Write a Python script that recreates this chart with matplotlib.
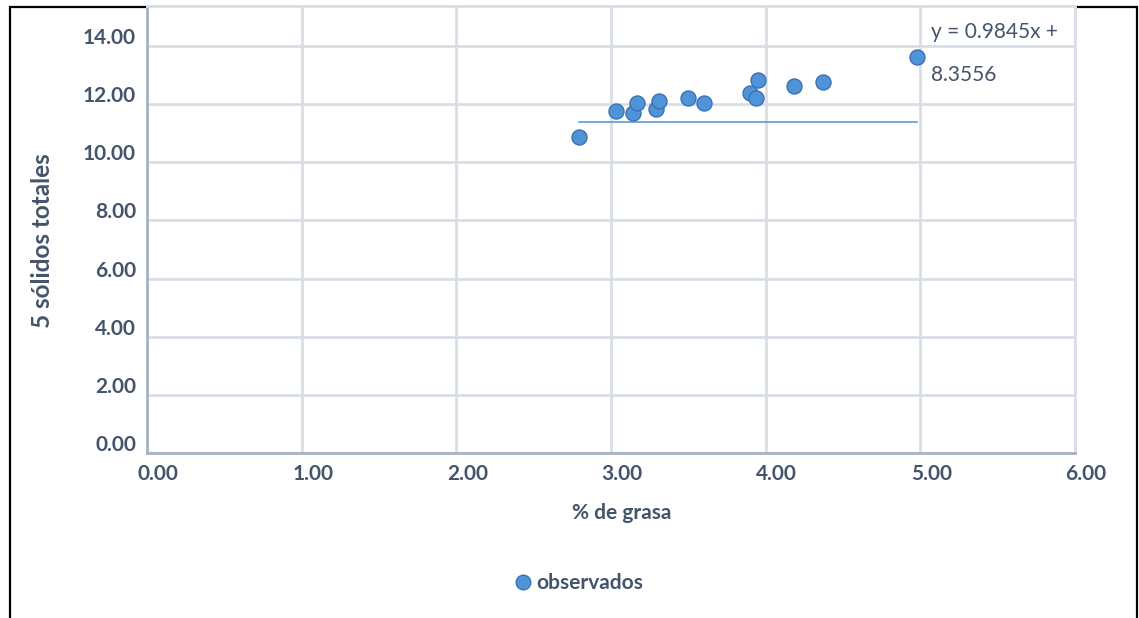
import matplotlib
matplotlib.use("Agg")
import matplotlib.pyplot as plt
from matplotlib.patches import Rectangle
from matplotlib.transforms import ScaledTranslation
from matplotlib.lines import Line2D

# datos
grasa = [2.79, 3.03, 3.14, 3.17, 3.29, 3.31, 3.50, 3.60, 3.90, 3.94, 3.95, 4.18, 4.37, 4.98]
solidos = [10.86, 11.76, 11.69, 12.03, 11.83, 12.10, 12.21, 12.03, 12.38, 12.21, 12.83, 12.62, 12.76, 13.62]

# linea de tendencia tal como aparece (horizontal)
trend_x = [2.79, 4.98]
trend_y = [11.37, 11.37]

x_ticks = [0, 1, 2, 3, 4, 5, 6]
y_ticks = [0, 2, 4, 6, 8, 10, 12, 14]
ecuacion = ["y = 0.9845x +", "8.3556"]

TXT = "#44546a"
GRID = "#d9dee6"
AXIS = "#a7b2c5"
FONT = "Lato"

plt.rcParams['font.family'] = [FONT, 'DejaVu Sans']

fig = plt.figure(figsize=(11.39, 6.18), dpi=100)
ax = fig.add_axes([147 / 1139, 1 - 453 / 618, 928 / 1139, 447 / 618])
ax.set_zorder(2)

# marco exterior del grafico
fig.patches.append(Rectangle((10 / 1139, -0.1), 1127 / 1139, 1 - 7 / 618 + 0.1,
                             transform=fig.transFigure, fill=False,
                             edgecolor="black", lw=1.6, zorder=-1))

ax.plot(trend_x, trend_y, color="#5b9bd5", lw=1.2, zorder=3)
ax.plot(grasa, solidos, 'o', ms=10.8, mfc="#4f93d9", mec="#3b71b3", mew=1.0,
        zorder=4, clip_on=False)

ax.set_xlim(0, 6)
ax.set_ylim(0, 15.37)
ax.set_xticks(x_ticks)
ax.set_yticks(y_ticks)
ax.set_xticklabels([f"{v:.2f}" for v in x_ticks])
ax.set_yticklabels([f"{v:.2f}" for v in y_ticks])
ax.grid(True, color=GRID, lw=2)
ax.set_axisbelow(True)
ax.tick_params(length=0, labelsize=15, labelcolor=TXT, pad=8)
for lab in ax.get_xticklabels() + ax.get_yticklabels():
    lab.set_fontweight("bold")

# desplazamientos de etiquetas como en excel
for lab in ax.get_xticklabels():
    lab.set_transform(lab.get_transform() + ScaledTranslation(11 / 100, 0, fig.dpi_scale_trans))
for lab in ax.get_yticklabels():
    lab.set_transform(lab.get_transform() + ScaledTranslation(0, 10 / 100, fig.dpi_scale_trans))

for s in ["left", "bottom"]:
    ax.spines[s].set_color(AXIS)
    ax.spines[s].set_linewidth(2)
for s in ["top", "right"]:
    ax.spines[s].set_color(GRID)
    ax.spines[s].set_linewidth(2)

fig.text(622 / 1139, 1 - 513 / 618, "% de grasa", ha="center", va="center",
         fontsize=15, fontweight="bold", color=TXT)
fig.text(43 / 1139, 1 - 241 / 618, "5 sólidos totales", ha="center", va="center",
         rotation=90, fontsize=17.5, fontweight="bold", color=TXT)

ax.text(0.845, 0.942, ecuacion[0], transform=ax.transAxes, ha="left", va="center",
        fontsize=15, color=TXT)
ax.text(0.845, 0.846, ecuacion[1], transform=ax.transAxes, ha="left", va="center",
        fontsize=15, color=TXT)

h = Line2D([], [], marker='o', ls='none', ms=10.5, mfc="#4f93d9", mec="#3b71b3")
leg = fig.legend([h], ["observados"], loc="center", bbox_to_anchor=(580 / 1139, 1 - 583 / 618),
                 frameon=False, handlelength=0.6, handletextpad=0.3,
                 prop={"family": FONT, "weight": "bold", "size": 15})
for t in leg.get_texts():
    t.set_color(TXT)

fig.savefig("out.png", dpi=100)
